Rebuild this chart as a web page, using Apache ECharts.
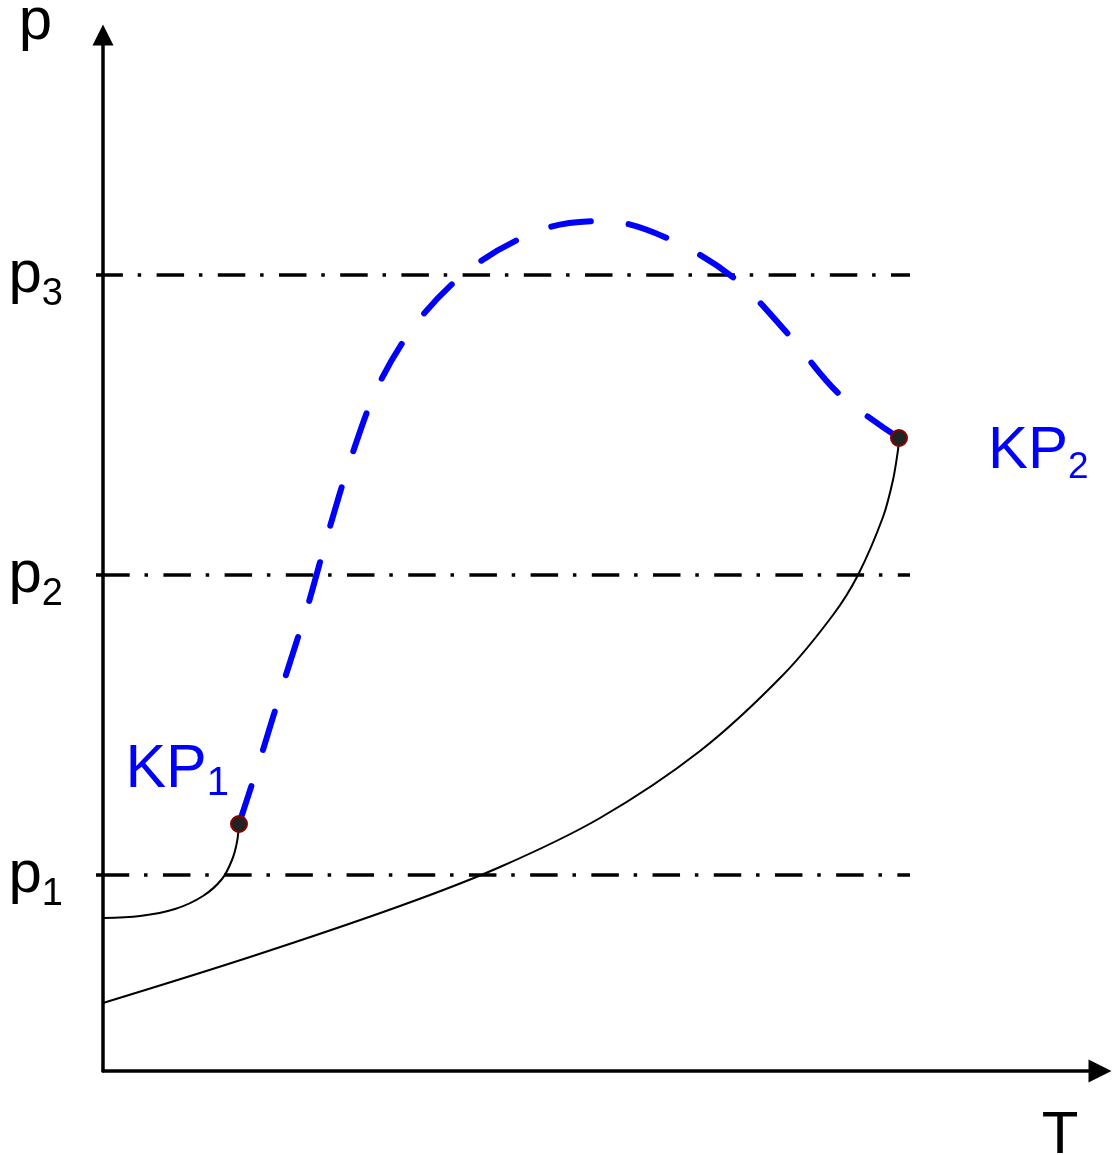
<!DOCTYPE html>
<html>
<head>
<meta charset="utf-8">
<script src="https://cdn.jsdelivr.net/npm/echarts@6/dist/echarts.min.js"></script>
<style>
  html, body { margin: 0; padding: 0; background: #ffffff; }
  #chart { width: 1113px; height: 1155px; }
</style>
</head>
<body>
<div id="chart"></div>
<script>
// Pressure levels marked on the p axis
const pressureLevels = [196, 496, 796];
const pressureSubscripts = ['1', '2', '3'];
const levelLineEndT = 807;
const levelDashOffsets = [1.25, 0.8, 7.6];

// Critical points KP1 and KP2 as [T, p]
const criticalPoint1 = [136, 247];
const criticalPoint2 = [796, 633];

// Short branch from the p axis up to KP1
const lowBranch = [
  [0, 153], [37, 155], [72, 162], [100, 175], [119, 192],
  [129, 211], [134, 229], [136, 247]
];

// Long branch from the p axis up to KP2
const highBranch = [
  [0, 68], [147, 114], [297, 165], [397, 204], [497, 253],
  [597, 320], [680, 396], [730, 456], [755, 496], [780, 554],
  [790, 591], [795, 621], [796, 633]
];

// Critical curve joining KP1 and KP2
const criticalCurve = [
  [136, 247], [159, 318], [182, 393], [205, 466], [226, 541],
  [249, 616], [277, 689], [319, 755], [375, 808], [444, 843],
  [502, 850], [564, 833], [631, 793], [685, 737], [735, 678],
  [796, 633]
];

const FONT = '"Liberation Sans", Arial, sans-serif';
const BLUE = '#0000ff';
const SMOOTH = 0.33;
const chart = echarts.init(document.getElementById('chart'), null, { renderer: 'canvas' });

const levelSeries = pressureLevels.map((p, i) => ({
  type: 'line',
  data: [[0, p], [levelLineEndT, p]],
  showSymbol: false,
  silent: true,
  clip: false,
  z: 2,
  lineStyle: {
    color: '#000',
    width: 3.5,
    type: [27.5, 14.8, 3.5, 15.4],
    dashOffset: levelDashOffsets[i],
    cap: 'butt'
  }
}));

const option = {
  animation: false,
  backgroundColor: '#ffffff',
  grid: { left: 103, right: 13, top: 35, bottom: 84, containLabel: false },
  xAxis: {
    type: 'value',
    min: 0,
    max: 997,
    splitLine: { show: false },
    axisTick: { show: false },
    axisLabel: { show: false },
    axisLine: {
      show: true,
      symbol: ['none', 'path://M5,0 L10,10 L0,10 Z'],
      symbolSize: [23, 27],
      lineStyle: { color: '#000', width: 3.5 }
    }
  },
  yAxis: {
    type: 'value',
    min: 0,
    max: 1036,
    splitLine: { show: false },
    axisLine: {
      show: true,
      symbol: ['none', 'path://M5,0 L10,10 L0,10 Z'],
      symbolSize: [21, 34],
      lineStyle: { color: '#000', width: 3.5 }
    },
    axisTick: {
      show: true,
      customValues: pressureLevels,
      length: 7,
      lineStyle: { color: '#000', width: 3.5 }
    },
    axisLabel: {
      show: true,
      customValues: pressureLevels,
      margin: 40,
      formatter: function (v) {
        const i = pressureLevels.indexOf(v);
        return '{m|p}{s|' + pressureSubscripts[i] + '}';
      },
      rich: {
        m: { fontFamily: FONT, fontSize: 60, color: '#000', lineHeight: 64 },
        s: { fontFamily: FONT, fontSize: 38, color: '#000', lineHeight: 64, padding: [39, 0, 0, 0] }
      }
    }
  },
  graphic: [
    {
      type: 'text', x: 35.5, y: 22, z: 10,
      style: { text: 'p', fontFamily: FONT, fontSize: 60, fill: '#000', align: 'center', verticalAlign: 'middle' }
    },
    {
      type: 'text', x: 1060, y: 1136, z: 10,
      style: { text: 'T', fontFamily: FONT, fontSize: 60, fill: '#000', align: 'center', verticalAlign: 'middle' }
    }
  ],
  series: [
    ...levelSeries,
    {
      type: 'line',
      data: lowBranch,
      smooth: SMOOTH,
      showSymbol: false,
      silent: true,
      z: 3,
      lineStyle: { color: '#000', width: 2 }
    },
    {
      type: 'line',
      data: highBranch,
      smooth: SMOOTH,
      showSymbol: false,
      silent: true,
      z: 3,
      lineStyle: { color: '#000', width: 2 }
    },
    {
      type: 'line',
      data: criticalCurve,
      smooth: SMOOTH,
      showSymbol: false,
      silent: true,
      z: 4,
      lineStyle: { color: BLUE, width: 6, type: [40, 38], cap: 'round' }
    },
    {
      type: 'scatter',
      z: 5,
      symbol: 'circle',
      symbolSize: 16,
      itemStyle: { color: '#222222', borderColor: '#8b0000', borderWidth: 2, opacity: 1 },
      data: [
        {
          value: criticalPoint1,
          label: {
            show: true,
            position: 'left',
            distance: 1,
            offset: [0, -54],
            color: BLUE,
            formatter: '{m|KP}{s|1}',
            rich: {
              m: { fontFamily: FONT, fontSize: 61, color: BLUE, lineHeight: 64 },
              s: { fontFamily: FONT, fontSize: 40, color: BLUE, lineHeight: 64, padding: [27, 0, 0, 0] }
            }
          }
        },
        {
          value: criticalPoint2,
          label: {
            show: true,
            position: 'right',
            distance: 80,
            offset: [0, 13],
            color: BLUE,
            formatter: '{m|KP}{s|2}',
            rich: {
              m: { fontFamily: FONT, fontSize: 60, color: BLUE, lineHeight: 64 },
              s: { fontFamily: FONT, fontSize: 37, color: BLUE, lineHeight: 64, padding: [34, 0, 0, 0] }
            }
          }
        }
      ]
    }
  ]
};

chart.setOption(option);
</script>
</body>
</html>
